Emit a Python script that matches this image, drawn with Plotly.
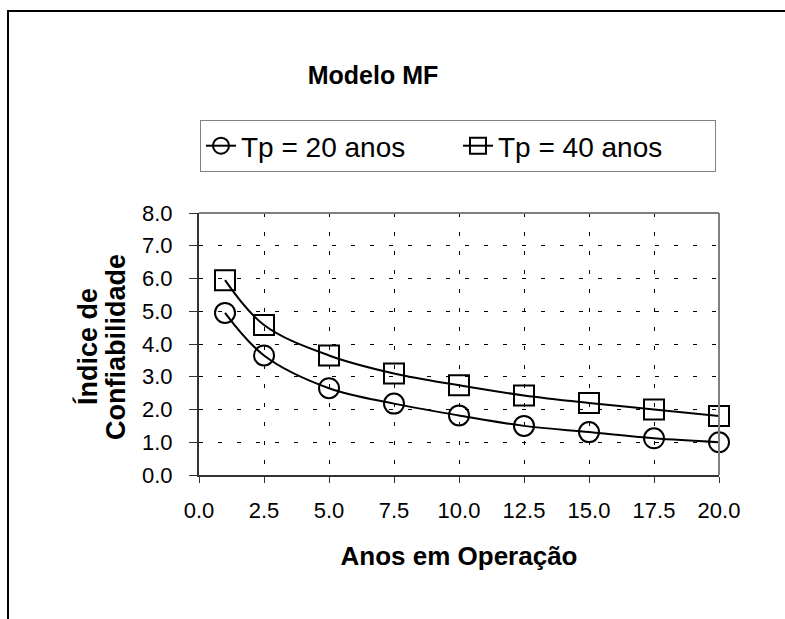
import plotly.graph_objects as go

# Data
anos = [1, 2.5, 5, 7.5, 10, 12.5, 15, 17.5, 20]
tp20 = [4.95, 3.65, 2.65, 2.18, 1.82, 1.50, 1.31, 1.12, 1.00]
tp40 = [5.95, 4.58, 3.65, 3.10, 2.74, 2.43, 2.20, 2.00, 1.80]
x_ticks = [0, 2.5, 5, 7.5, 10, 12.5, 15, 17.5, 20]
y_ticks = [0, 1, 2, 3, 4, 5, 6, 7, 8]
y_title_lines = ["Índice de", "Confiabilidade"]

FONT = "Arial"

fig = go.Figure()
fig.add_trace(go.Scatter(
    x=anos, y=tp20, name="Tp = 20 anos", mode="lines+markers",
    line=dict(color="black", width=2, shape="spline", smoothing=1),
    marker=dict(symbol="circle-open", size=20, color="black", line=dict(width=2)),
    cliponaxis=False,
))
fig.add_trace(go.Scatter(
    x=anos, y=tp40, name="Tp = 40 anos", mode="lines+markers",
    line=dict(color="black", width=2, shape="spline", smoothing=1),
    marker=dict(symbol="square-open", size=20, color="black", line=dict(width=2)),
    cliponaxis=False,
))

W, H = 785, 619
L, R, T, B = 199, 66, 213, 144
pw, ph = W - L - R, H - T - B

def px_x(p):
    return (p - L) / pw

def px_y(p):
    return 1 - (p - T) / ph

fig.update_layout(
    width=W, height=H,
    margin=dict(l=L, r=R, t=T, b=B, pad=0),
    paper_bgcolor="white", plot_bgcolor="white",
    font=dict(family=FONT, color="black"),
    title=dict(text="<b>Modelo MF</b>", x=373 / W, xref="container", xanchor="center",
               y=1 - 75 / H, yref="container", yanchor="middle",
               font=dict(size=25, family=FONT, color="black")),
    showlegend=True,
    legend=dict(orientation="h", x=px_x(200), xanchor="left", y=px_y(120), yanchor="top",
                bordercolor="#808080", borderwidth=1, bgcolor="white",
                font=dict(size=28, family=FONT, color="black"),
                entrywidth=212, entrywidthmode="pixels",
                itemsizing="trace"),
    xaxis=dict(range=[0, 20], tickvals=x_ticks, ticktext=[f"{v:.1f}" for v in x_ticks],
               showgrid=True, gridcolor="black", gridwidth=1, griddash="4px,15px",
               showline=True, linecolor="#333", linewidth=2,
               ticks="outside", ticklen=6, tickcolor="#333", tickwidth=1,
               tickfont=dict(size=22, family=FONT, color="black"),
               ticklabelstandoff=9,
               zeroline=False,
               title=dict(text="<b>Anos em Operação</b>", standoff=24,
                          font=dict(size=26, family=FONT, color="black"))),
    yaxis=dict(range=[0, 8], tickvals=y_ticks, ticktext=[f"{v:.1f}" for v in y_ticks],
               showgrid=True, gridcolor="black", gridwidth=1, griddash="4px,15px",
               showline=True, linecolor="#333", linewidth=2,
               ticks="outside", ticklen=8, tickcolor="#333", tickwidth=1,
               tickfont=dict(size=22, family=FONT, color="black"),
               ticklabelstandoff=12,
               zeroline=False),
)

# y-axis title, two lines
for txt, xp in zip(y_title_lines, [87, 116]):
    fig.add_annotation(text=f"<b>{txt}</b>", textangle=-90, showarrow=False,
                       xref="paper", yref="paper", x=px_x(xp), y=px_y(347),
                       xanchor="center", yanchor="middle",
                       font=dict(size=27, family=FONT, color="black"))

# plot-area border (gray top/right)
fig.add_shape(type="line", xref="paper", yref="paper", x0=0, x1=1, y0=1, y1=1,
              line=dict(color="#808080", width=2), layer="above")
fig.add_shape(type="line", xref="paper", yref="paper", x0=1, x1=1, y0=0, y1=1,
              line=dict(color="#808080", width=2), layer="above")
# outer chart frame
fig.add_shape(type="rect", xref="paper", yref="paper",
              x0=px_x(8), x1=px_x(900), y0=px_y(700), y1=px_y(11),
              line=dict(color="black", width=2), fillcolor="rgba(0,0,0,0)", layer="below")

fig.write_html("out.html")
